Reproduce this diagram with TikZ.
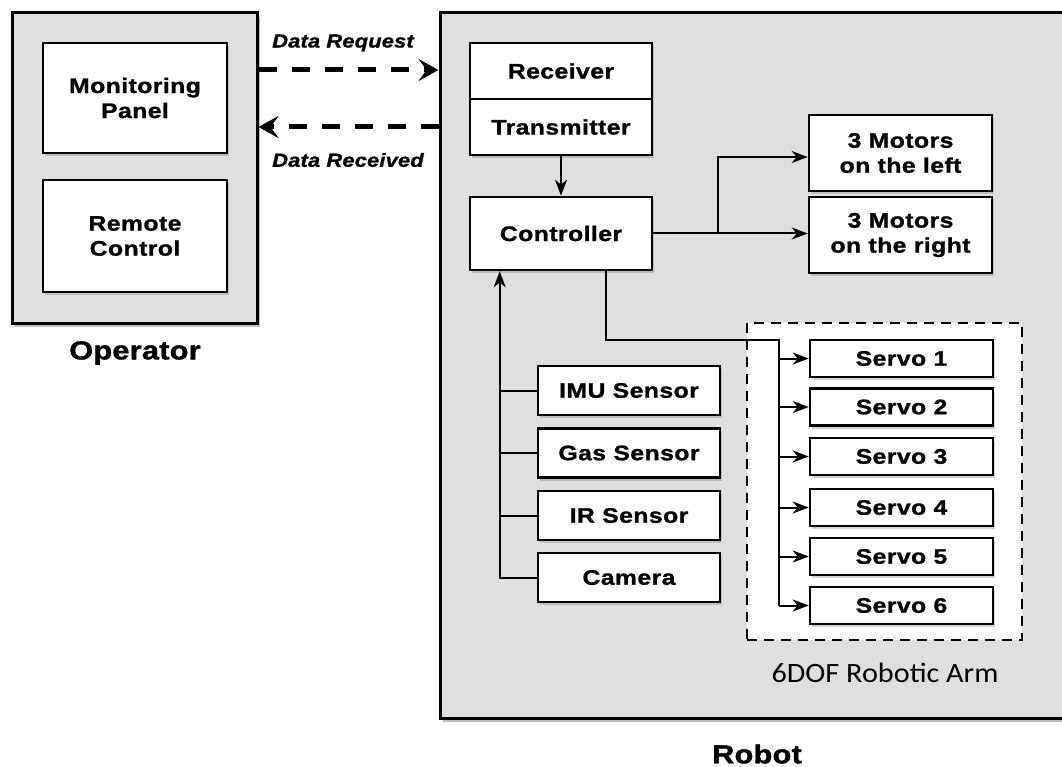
\documentclass[tikz,border=0pt]{standalone}
\usepackage{fontspec}
\usetikzlibrary{arrows.meta,shadows,calc}

% Fonts
\newfontfamily\boxfont{Liberation Sans}[UprightFont={* Bold},FakeStretch=1.18,LetterSpace=2,FakeBold=1.2]
\newfontfamily\flowfont{Liberation Sans}[UprightFont={* Bold Italic},FakeStretch=1.15,LetterSpace=1,FakeBold=1.2]
\newfontfamily\titlefont{Liberation Sans}[UprightFont={* Bold},FakeStretch=1.18,LetterSpace=1,FakeBold=1.5]
\newfontfamily\armfont{Carlito}[FakeStretch=1.08]

\definecolor{panelgray}{HTML}{DFDFDF}

\tikzset{
  container/.style={draw, line width=3pt, fill=panelgray, inner sep=0pt,
    drop shadow={shadow xshift=3pt, shadow yshift=-4pt, opacity=0.5}},
  unit/.style={draw, line width=2.6pt, fill=white, inner sep=0pt, align=center,
    font=\boxfont\fontsize{21}{25}\selectfont,
    drop shadow={shadow xshift=2pt, shadow yshift=-3pt, opacity=0.35}},
  sensorbox/.style={unit, minimum width=182, minimum height=49},
  servobox/.style={unit, minimum width=183, minimum height=37},
  armbox/.style={draw, line width=2.5pt, fill=white, dash pattern=on 10pt off 7pt, inner sep=0pt},
  wire/.style={line width=2pt},
  arr/.style={wire, -{Stealth[length=16pt,width=12pt,inset=5pt]}},
  link/.style={line width=5pt, dash pattern=on 18pt off 15pt,
    -{Stealth[length=20pt,width=22pt,inset=8pt]}},
  flowlabel/.style={font=\flowfont\fontsize{19}{22}\selectfont},
  grouplabel/.style={font=\titlefont\fontsize{26}{30}\selectfont},
}

\begin{document}
\begin{tikzpicture}[x=1pt, y=-1pt]
\useasboundingbox (0,0) rectangle (1062,767);
\clip (0,0) rectangle (1062,767);

% Outer groups
\node[container, minimum width=245, minimum height=310] (op) at (134.5,168) {};
\node[container, minimum width=635, minimum height=705] (robot) at (757.5,365.5) {};
\node[grouplabel] (oplbl) at (135,353) {Operator};
\node[grouplabel] (robotlbl) at (757,754) {Robot};

% Operator side
\node[unit, minimum width=184, minimum height=110] (mon) at (135,98) {Monitoring\\Panel};
\node[unit, minimum width=184, minimum height=112] (rc) at (135,236) {Remote\\Control};

% Communication links
\coordinate (yreq) at (0,70);
\coordinate (yrec) at (0,127);
\draw[link] (op.east |- yreq) -- (robot.west |- yreq);
\draw[link] (robot.west |- yrec) -- (op.east |- yrec);
\node[flowlabel] (reqlbl) at (343,43) {Data Request};
\node[flowlabel] (reclbl) at (348,160) {Data Received};

% Robot: communication and control
\node[unit, minimum width=182, minimum height=56] (recv) at (561,71) {Receiver};
\node[unit, minimum width=182, minimum height=56] (trans) at (561,127) {Transmitter};
\node[unit, minimum width=182, minimum height=73] (ctrl) at (561,233.5) {Controller};

% Drive motors
\node[unit, minimum width=183, minimum height=76] (motL) at (900.5,153) {3 Motors\\on the left};
\node[unit, minimum width=183, minimum height=76] (motR) at (900.5,235) {3 Motors\\on the right};

% Sensors
\node[sensorbox] (imu) at (629,390.5) {IMU Sensor};
\node[sensorbox] (gas) at (629,453) {Gas Sensor};
\node[sensorbox] (ir)  at (629,515.5) {IR Sensor};
\node[sensorbox] (cam) at (629,577.5) {Camera};

% Robotic arm
\node[armbox, minimum width=275, minimum height=317] (arm) at (884.5,481.5) {};
\foreach \i/\y in {1/358.5,2/407,3/456.5,4/507.5,5/556.5,6/605.5}
  \node[servobox] (s\i) at (901.5,\y) {Servo \i};
\node[font=\armfont\fontsize{28}{32}\selectfont] (armlbl) at (885,673) {6DOF Robotic Arm};

% Connections
\draw[arr] (trans.south) -- (ctrl.north);
\draw[arr] (ctrl.east) -- (ctrl.east -| motR.west);
\coordinate (split) at (718,233.5);
\draw[arr] (split) |- ([yshift=-4pt]motL.west);

\coordinate (ctrlin) at ([xshift=31pt]ctrl.south west);
\draw[arr] (cam.west) -| (ctrlin);
\foreach \s in {imu,gas,ir}
  \draw[wire] (\s.west) -- (\s.west -| ctrlin);

\coordinate (ctrlout) at ([xshift=137pt]ctrl.south west);
\coordinate (servobus) at (779,340);
\draw[wire] (ctrlout) |- (servobus) -- (servobus |- s6.west);
\foreach \i in {1,...,6}
  \draw[arr] (servobus |- s\i.west) -- (s\i.west);
\end{tikzpicture}
\end{document}
